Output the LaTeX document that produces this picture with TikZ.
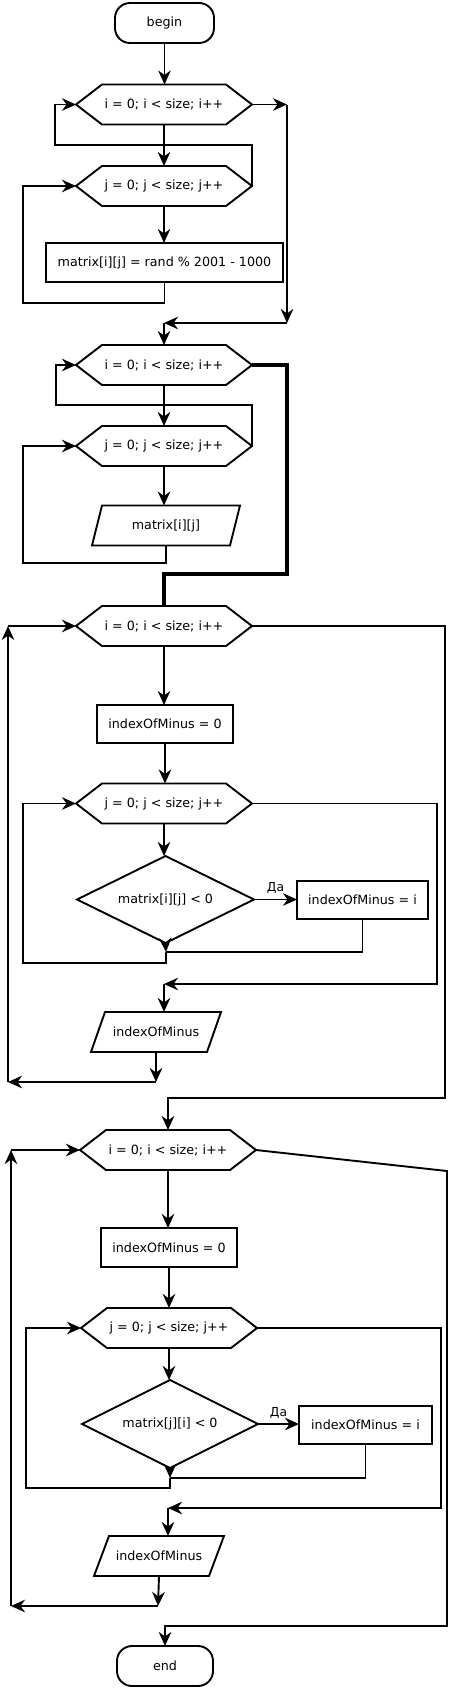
\documentclass[tikz,border=0pt]{standalone}
\usepackage{fontspec}
\setmainfont{DejaVu Sans}
\usetikzlibrary{arrows.meta,shapes.geometric,calc}
\tikzset{
  ln/.style={line width=1.9pt, line join=miter},
  thickln/.style={line width=3.2pt},
  arr/.style={ln, -{Stealth[length=14pt,width=12.5pt,inset=4.5pt]}},
  txt/.style={font=\fontsize{12.7}{15}\selectfont, inner sep=0pt, outer sep=0pt},
  hexbox/.style={txt, minimum width=176pt, minimum height=40pt},
  procbox/.style={txt, draw, ln, minimum height=38pt},
  termbox/.style={txt, draw, ln, rounded corners=15pt, minimum height=40pt},
  decbox/.style={txt, draw, ln, diamond, aspect=2},
  parabox/.style={txt, minimum height=40pt},
  lbl/.style={font=\fontsize{12.3}{14}\selectfont, inner sep=0pt},
}
\newcommand\hexnode[4]{%
  \node[hexbox] (#1) at (#2,#3) {#4};
  \draw[ln] (#1.west) -- ([xshift=26pt]#1.north west) -- ([xshift=-26pt]#1.north east) -- (#1.east) -- ([xshift=-26pt]#1.south east) -- ([xshift=26pt]#1.south west) -- cycle;
}
\newcommand\paranode[6]{%
  \node[parabox, minimum width=#4] (#1) at (#2,#3) {#6};
  \draw[ln] ([xshift=#5]#1.north west) -- (#1.north east) -- ([xshift=-#5]#1.south east) -- (#1.south west) -- cycle;
}
\begin{document}
\begin{tikzpicture}[x=1pt,y=-1pt]
\useasboundingbox (0,0) rectangle (450,1689);

% nodes
\node[termbox, minimum width=99pt] (start) at (164.5,23) {begin};
\hexnode{h1}{164}{104.5}{i = 0; i < size; i++}
\hexnode{h2}{164}{186}{j = 0; j < size; j++}
\node[procbox, minimum width=237pt, minimum height=39pt] (r1) at (164.5,262.5) {matrix[i][j] = rand \% 2001 - 1000};
\hexnode{h3}{164}{365}{i = 0; i < size; i++}
\hexnode{h4}{164}{446}{j = 0; j < size; j++}
\paranode{p1}{166}{525.5}{148pt}{10pt}{matrix[i][j]}
\hexnode{h5}{164}{626}{i = 0; i < size; i++}
\node[procbox, minimum width=136pt] (r2) at (165,724) {indexOfMinus = 0};
\hexnode{h6}{164}{803.5}{j = 0; j < size; j++}
\node[decbox, minimum width=177pt, minimum height=87pt] (d1) at (165.5,899.5) {matrix[i][j] < 0};
\node[procbox, minimum width=131pt] (r3) at (362.5,900) {indexOfMinus = i};
\paranode{p2}{156}{1032}{130pt}{14pt}{indexOfMinus}
\hexnode{h7}{168}{1150}{i = 0; i < size; i++}
\node[procbox, minimum width=136pt, minimum height=39pt] (r4) at (169,1247.5) {indexOfMinus = 0};
\hexnode{h8}{169}{1328}{j = 0; j < size; j++}
\node[decbox, minimum width=176pt, minimum height=88pt] (d2) at (170,1424) {matrix[j][i] < 0};
\node[procbox, minimum width=133pt] (r5) at (365.5,1425) {indexOfMinus = i};
\paranode{p3}{159}{1556}{130pt}{15pt}{indexOfMinus}
\node[termbox, minimum width=96pt] (stop) at (165,1666) {end};

% helper coordinates
\coordinate (c1) at (287,104.5);
\coordinate (c2) at (287,323);
\coordinate (c3) at (164,323);
\coordinate (l1) at (55,145);
\coordinate (l2) at (23,303);
\coordinate (l3) at (56,405);
\coordinate (l4) at (23,563);
\coordinate (t1) at (287,574);
\coordinate (j1) at (166,952);
\coordinate (l5) at (23,963);
\coordinate (e1) at (437,984);
\coordinate (j2) at (164,984);
\coordinate (j3) at (156,1082);
\coordinate (l6) at (8,1082);
\coordinate (l7) at (8,626);
\coordinate (e2) at (445,1098);
\coordinate (j4) at (170,1478);
\coordinate (l8) at (26,1488);
\coordinate (e3) at (441,1508);
\coordinate (j5) at (168,1508);
\coordinate (j6) at (158,1606);
\coordinate (l9) at (11,1606);
\coordinate (l10) at (11,1150);
\coordinate (e4) at (447,1171);
\coordinate (e5) at (447,1626);

% block 1
\draw[arr] (start.south) -- (start.south |- h1.north);
\draw[arr] (h1.east) -- (c1);
\draw[arr] (c1) -- (c2);
\draw[arr] (c2) -- (c3);
\draw[arr] (c3) -- (h3.north);
\draw[arr] (h1.south) -- (h2.north);
\draw[arr] (h2.east) |- (l1) |- (h1.west);
\draw[arr] (h2.south) -- (h2.south |- r1.north);
\draw[arr] (r1.south) |- (l2) |- (h2.west);

% block 2
\draw[arr] (h3.south) -- (h4.north);
\draw[arr] (h4.east) |- (l3) |- (h3.west);
\draw[arr] (h4.south) -- (h4.south |- p1.north);
\draw[arr] (p1.south) |- (l4) |- (h4.west);
\draw[thickln] (h3.east) -| (t1) -| (h5.north);

% block 3
\draw[arr] (h5.south) -- (h5.south |- r2.north);
\draw[arr] (r2.south) -- (r2.south |- h6.north);
\draw[arr] (h6.south) -- (h6.south |- d1.north);
\draw[arr] (d1.east) -- node[lbl, above=5pt] {Да} (d1.east -| r3.west);
\draw[ln] (r3.south) |- (j1);
\draw[arr] (d1.south) -- (j1);
\draw[arr] (j1) |- (l5) |- (h6.west);
\draw[arr] (h6.east) -| (e1) -- (j2);
\draw[arr] (j2) -- (j2 |- p2.north);
\draw[arr] (p2.south) -- (j3);
\draw[arr] (j3) -- (l6);
\draw[arr] (l6) -- (l7);
\draw[arr] (l7) -- (h5.west);
\draw[arr] (h5.east) -| (e2) -| (h7.north);

% block 4
\draw[arr] (h7.south) -- (h7.south |- r4.north);
\draw[arr] (r4.south) -- (r4.south |- h8.north);
\draw[arr] (h8.south) -- (h8.south |- d2.north);
\draw[arr] (d2.east) -- node[lbl, above=5pt] {Да} (d2.east -| r5.west);
\draw[ln] (r5.south) |- (j4);
\draw[arr] (d2.south) -- (j4);
\draw[arr] (j4) |- (l8) |- (h8.west);
\draw[arr] (h8.east) -| (e3) -- (j5);
\draw[arr] (j5) -- (j5 |- p3.north);
\draw[arr] (p3.south) -- (j6);
\draw[arr] (j6) -- (l9);
\draw[arr] (l9) -- (l10);
\draw[arr] (l10) -- (h7.west);
\draw[arr] (h7.east) -- (e4) -- (e5) -| (stop.north);
\end{tikzpicture}
\end{document}
